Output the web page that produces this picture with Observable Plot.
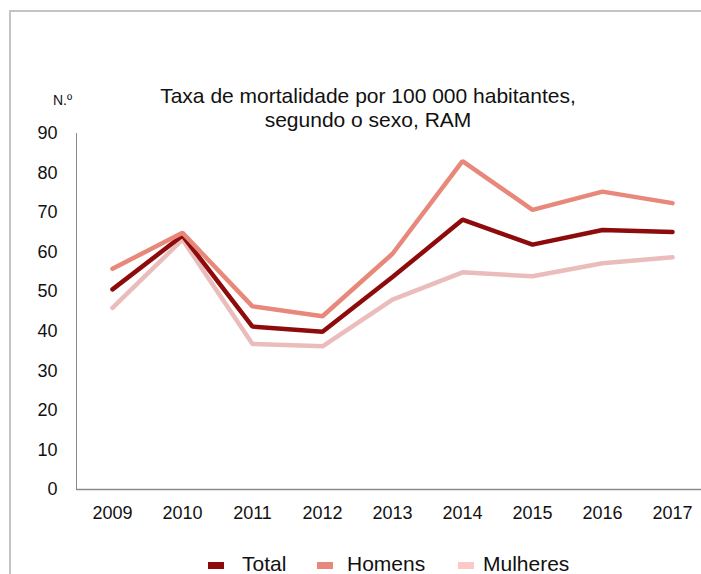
<!DOCTYPE html>
<html>
<head>
<meta charset="utf-8">
<script src="https://cdn.jsdelivr.net/npm/d3@7"></script>
<script src="https://cdn.jsdelivr.net/npm/@observablehq/plot@0.6"></script>
<style>
  html, body { margin: 0; padding: 0; background: #fff; }
  #wrap { position: relative; width: 701px; height: 574px; overflow: hidden; font-family: "Liberation Sans", Arial, sans-serif; }
  #frame { position: absolute; left: 9px; top: 10px; width: 720px; height: 600px; border-top: 2px solid #c4c4c4; border-left: 2px solid #c4c4c4; box-sizing: border-box; }
  #chart { position: absolute; left: 0; top: 0; }
  #overlay { position: absolute; left: 0; top: 0; pointer-events: none; }
</style>
</head>
<body>
<div id="wrap">
  <div id="frame"></div>
  <div id="chart"></div>
  <svg id="overlay" width="701" height="574"></svg>
</div>
<script>
const years = [2009, 2010, 2011, 2012, 2013, 2014, 2015, 2016, 2017];
const total    = [50.6, 64.2, 41.2, 39.9, 53.7, 68.2, 61.9, 65.6, 65.1];
const homens   = [55.8, 64.9, 46.3, 43.8, 59.6, 83.0, 70.7, 75.3, 72.4];
const mulheres = [45.9, 63.2, 36.8, 36.2, 48.0, 54.9, 53.9, 57.2, 58.7];
const yTicks = [0, 10, 20, 30, 40, 50, 60, 70, 80, 90];

const titleLines = ["Taxa de mortalidade por 100 000 habitantes,", "segundo o sexo, RAM"];
const unitLabel = "N.º";
const seriesNames = ["Total", "Homens", "Mulheres"];
const lineColors = ["#8e0b0b", "#e8887a", "#ebbcbc"];
const swatchColors = ["#8e0b0b", "#e8887a", "#ffc8c8"];

const rows = (vals, name) => years.map((y, i) => ({year: y, value: vals[i], serie: name}));
const dTotal = rows(total, "Total");
const dHomens = rows(homens, "Homens");
const dMulheres = rows(mulheres, "Mulheres");

const plot = Plot.plot({
  width: 701,
  height: 574,
  marginLeft: 76,
  marginRight: 0,
  marginTop: 133,
  marginBottom: 85,
  style: {fontFamily: "Liberation Sans, Arial, sans-serif", fontSize: "18px", color: "#8a8a8a", background: "transparent", overflow: "visible"},
  x: {type: "point", domain: years, range: [110, 673], padding: 0, label: null, tickSize: 0, tickPadding: 17, tickFormat: d => String(d)},
  y: {domain: [0, 90], ticks: yTicks, label: null, tickSize: 0, tickPadding: 19, line: true},
  marks: [
    Plot.ruleY([0], {stroke: "#8a8a8a", strokeWidth: 1.5}),
    Plot.line(dMulheres, {x: "year", y: "value", stroke: lineColors[2], strokeWidth: 4.5, strokeLinejoin: "miter", strokeLinecap: "round"}),
    Plot.line(dTotal, {x: "year", y: "value", stroke: lineColors[0], strokeWidth: 4.5, strokeLinejoin: "miter", strokeLinecap: "round"}),
    Plot.line(dHomens, {x: "year", y: "value", stroke: lineColors[1], strokeWidth: 4.5, strokeLinejoin: "miter", strokeLinecap: "round"})
  ]
});
document.getElementById("chart").appendChild(plot);
d3.select(plot).selectAll("text").attr("fill", "#111");

const ov = d3.select("#overlay");
ov.selectAll("text.title").data(titleLines).join("text")
  .attr("class", "title")
  .attr("x", 368).attr("y", (d, i) => 103 + i * 24)
  .attr("text-anchor", "middle")
  .attr("font-size", 21).attr("fill", "#111")
  .text(d => d);
ov.append("text").attr("x", 53).attr("y", 105).attr("font-size", 14).attr("fill", "#111").text(unitLabel);

const legendX = [208, 317, 458];
const legendTextX = [242, 347, 483];
const lg = ov.selectAll("g.leg").data(seriesNames).join("g").attr("class", "leg");
lg.append("rect").attr("x", (d, i) => legendX[i]).attr("y", 562).attr("width", 16).attr("height", 7).attr("fill", (d, i) => swatchColors[i]);
lg.append("text").attr("x", (d, i) => legendTextX[i]).attr("y", 571).attr("font-size", 21).attr("fill", "#111").text(d => d);
</script>
</body>
</html>
